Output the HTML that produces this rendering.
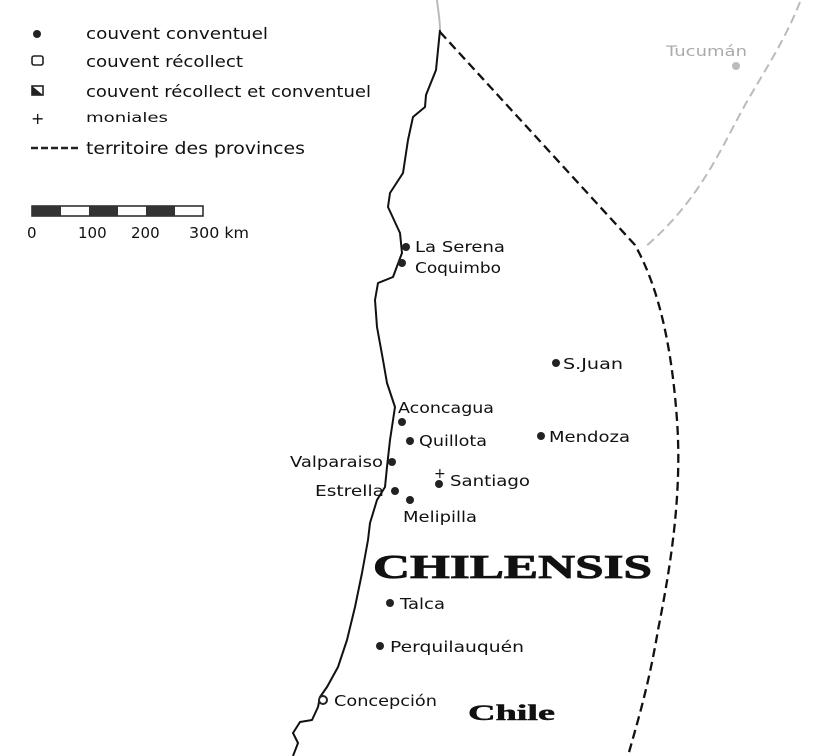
<!DOCTYPE html>
<html><head><style>
body{margin:0;background:#fff;}
svg{display:block;}
text{font-family:"DejaVu Sans","Liberation Sans",sans-serif;fill:#111;}
</style></head><body>
<svg width="830" height="756" viewBox="0 0 830 756" xmlns="http://www.w3.org/2000/svg">
<rect width="830" height="756" fill="#fff"/>
<circle cx="37" cy="34" r="4" fill="#222"/>
<rect x="32" y="56" width="11" height="9" rx="2" fill="none" stroke="#222" stroke-width="1.6"/>
<rect x="32" y="86" width="11" height="9" fill="#fff" stroke="#222" stroke-width="1.6"/>
<polygon points="32,86 43,95 32,95" fill="#222"/>
<text x="31" y="124" font-size="16">+</text>
<path d="M31 148 H80" stroke="#222" stroke-width="2.5" stroke-dasharray="7,3"/>
<text x="86" y="39" font-size="16" textLength="182" lengthAdjust="spacingAndGlyphs">couvent conventuel</text>
<text x="86" y="67" font-size="16" textLength="157" lengthAdjust="spacingAndGlyphs">couvent récollect</text>
<text x="86" y="97" font-size="16" textLength="285" lengthAdjust="spacingAndGlyphs">couvent récollect et conventuel</text>
<text x="86" y="122" font-size="13" textLength="82" lengthAdjust="spacingAndGlyphs">moniales</text>
<text x="86" y="154" font-size="17" textLength="219" lengthAdjust="spacingAndGlyphs">territoire des provinces</text>
<rect x="32" y="206" width="171" height="10" fill="#fff" stroke="#222" stroke-width="1.5"/>
<rect x="32" y="206" width="29" height="10" fill="#333"/>
<rect x="89" y="206" width="29" height="10" fill="#333"/>
<rect x="146" y="206" width="29" height="10" fill="#333"/>
<text x="27" y="238" font-size="15">0</text>
<text x="78" y="238" font-size="15">100</text>
<text x="131" y="238" font-size="15">200</text>
<text x="189" y="238" font-size="15" textLength="60" lengthAdjust="spacingAndGlyphs">300 km</text>
<path d="M800 2 C785 40 765 70 745 105 C720 150 700 200 645 247" fill="none" stroke="#bbb" stroke-width="2" stroke-dasharray="9,5"/>
<path d="M437 0 C438 10 440 20 440 30" fill="none" stroke="#bbb" stroke-width="2"/>
<circle cx="736" cy="66" r="4" fill="#bbb"/>
<text x="666" y="56" font-size="14" textLength="81" lengthAdjust="spacingAndGlyphs" style="fill:#aaa">Tucumán</text>
<path d="M440 32 L635 245 C660 290 672 350 677 420 C682 490 672 560 658 630 C648 690 635 730 628 756" fill="none" stroke="#111" stroke-width="2.3" stroke-dasharray="9,5"/>
<path d="M440 30 L436 70 L426 95 L425 107 L413 117 L408 140 L403 173 L390 193 L388 207 L400 233 L402 253 L393 277 L378 283 L375 300 L377 327 L383 360 L387 383 L395 407 L390 440 L387 467 L385 487 L377 500 L370 523 L368 540 L362 573 L355 607 L347 640 L338 667 L327 687 L320 697 L318 707 L312 720 L300 722 L293 733 L298 743 L293 756" fill="none" stroke="#111" stroke-width="2" stroke-linejoin="round"/>
<g font-size="15">
<circle cx="406" cy="247" r="4" fill="#222"/><text x="415" y="252" textLength="90" lengthAdjust="spacingAndGlyphs">La Serena</text>
<circle cx="402" cy="263" r="4" fill="#222"/><text x="415" y="273" textLength="86" lengthAdjust="spacingAndGlyphs">Coquimbo</text>
<circle cx="556" cy="363" r="4" fill="#222"/><text x="563" y="369" textLength="60" lengthAdjust="spacingAndGlyphs">S.Juan</text>
<circle cx="402" cy="422" r="4" fill="#222"/><text x="398" y="413" textLength="96" lengthAdjust="spacingAndGlyphs">Aconcagua</text>
<circle cx="410" cy="441" r="4" fill="#222"/><text x="419" y="446" textLength="68" lengthAdjust="spacingAndGlyphs">Quillota</text>
<circle cx="541" cy="436" r="4" fill="#222"/><text x="549" y="442" textLength="81" lengthAdjust="spacingAndGlyphs">Mendoza</text>
<circle cx="392" cy="462" r="4" fill="#222"/><text x="290" y="467" textLength="93" lengthAdjust="spacingAndGlyphs">Valparaiso</text>
<circle cx="395" cy="491" r="4" fill="#222"/><text x="315" y="496" textLength="69" lengthAdjust="spacingAndGlyphs">Estrella</text>
<circle cx="439" cy="484" r="4" fill="#222"/><text x="434" y="478" font-size="14">+</text><text x="450" y="486" textLength="80" lengthAdjust="spacingAndGlyphs">Santiago</text>
<circle cx="410" cy="500" r="4" fill="#222"/><text x="403" y="522" textLength="74" lengthAdjust="spacingAndGlyphs">Melipilla</text>
<circle cx="390" cy="603" r="4" fill="#222"/><text x="400" y="609" textLength="45" lengthAdjust="spacingAndGlyphs">Talca</text>
<circle cx="380" cy="646" r="4" fill="#222"/><text x="390" y="652" textLength="134" lengthAdjust="spacingAndGlyphs">Perquilauquén</text>
<circle cx="323" cy="700" r="4" fill="#fff" stroke="#222" stroke-width="2"/><text x="334" y="706" textLength="103" lengthAdjust="spacingAndGlyphs">Concepción</text>
</g>
<text x="373" y="578" font-size="34" font-weight="bold" textLength="279" lengthAdjust="spacingAndGlyphs" style="font-family:'Liberation Serif',serif;stroke:#111;stroke-width:0.8">CHILENSIS</text>
<text x="468" y="720" font-size="22" font-weight="bold" textLength="87" lengthAdjust="spacingAndGlyphs" style="font-family:'Liberation Serif',serif;stroke:#111;stroke-width:0.5">Chile</text>
</svg>
</body></html>
